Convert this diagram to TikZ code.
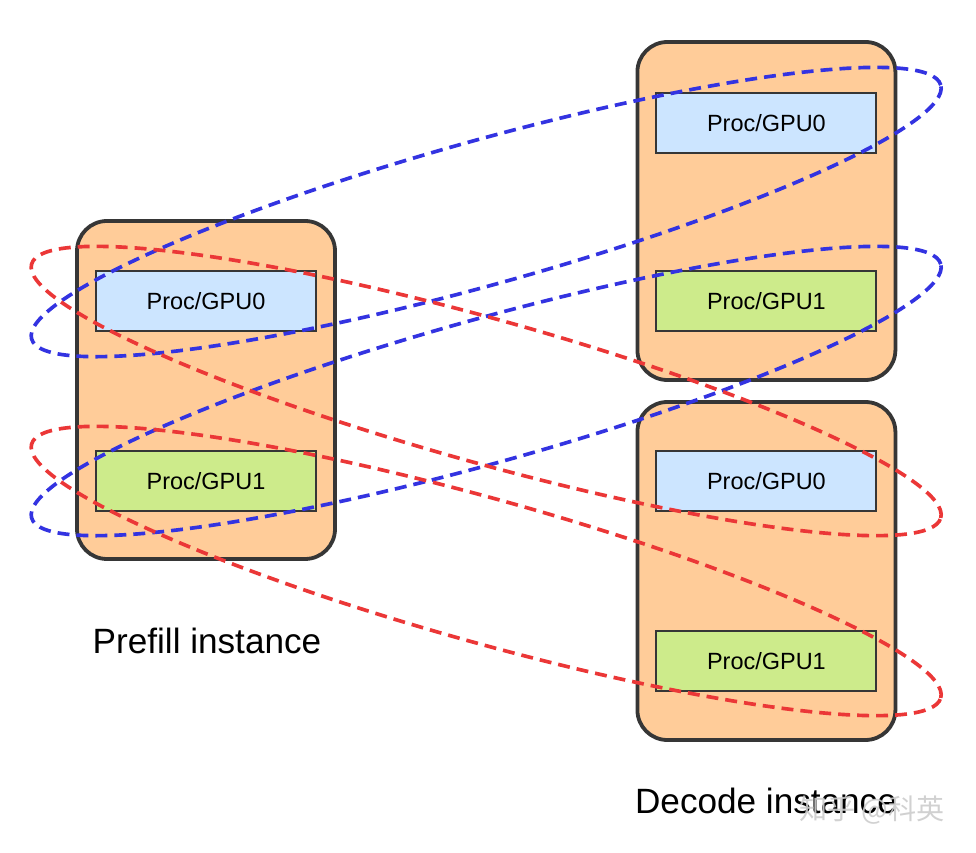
\documentclass[tikz,border=0pt]{standalone}
\usepackage{fontspec}
\setmainfont{Liberation Sans}
\newfontfamily\cjkfont{Noto Sans CJK SC}
\usetikzlibrary{calc}

\definecolor{instfill}{RGB}{255,204,153}
\definecolor{gpuzero}{RGB}{204,229,255}
\definecolor{gpuone}{RGB}{205,235,139}
\definecolor{boxline}{RGB}{54,54,54}
\definecolor{bluegroup}{RGB}{51,51,225}
\definecolor{redgroup}{RGB}{235,55,55}

\tikzstyle{instance}=[rectangle, draw=boxline, line width=2.7pt, fill=instfill,
                      rounded corners=0.75cm, minimum width=6.45cm, minimum height=8.45cm]
\tikzstyle{proc}=[rectangle, draw=boxline, line width=1.5pt, inner sep=0,
                  minimum width=5.5cm, minimum height=1.5cm,
                  font=\fontsize{16.7}{20}\selectfont]
\tikzstyle{caption}=[font=\fontsize{25}{30}\selectfont]
\tikzstyle{group}=[line width=2.6pt, dash pattern=on 8.5pt off 5pt]

\begin{document}
\begin{tikzpicture}

\useasboundingbox (0, 0) rectangle (24.4, 21.3);

%%%%%%%%%%%%%%%%%%
%%%%%%%%%%%%%%%%%%
\node (Prefill) at (5.15, 11.55) [instance] {};

\node (GPU0_Prefill) at (5.15, 13.775) [proc, fill=gpuzero] {Proc/GPU0};

\node (GPU1_Prefill) at (5.15, 9.275) [proc, fill=gpuone] {Proc/GPU1};

\node (Prefill_Text) at (5.175, 5.275) [caption] {Prefill instance};

%%%%%%%%%%%%%%%%%%
\node (DecodeA) at (19.16, 16.025) [instance] {};

\node (GPU0_DecodeA) at (19.16, 18.225) [proc, fill=gpuzero] {Proc/GPU0};

\node (GPU1_DecodeA) at (19.16, 13.775) [proc, fill=gpuone] {Proc/GPU1};

%%%%%%%%%%%%%%%%%%
\node (DecodeB) at (19.16, 7.025) [instance] {};

\node (GPU0_DecodeB) at (19.16, 9.275) [proc, fill=gpuzero] {Proc/GPU0};

\node (GPU1_DecodeB) at (19.16, 4.775) [proc, fill=gpuone] {Proc/GPU1};

\node (Decode_Text) at (19.15, 1.275) [caption] {Decode instance};

\node (Watermark) at (21.8, 1.05) [text=gray!40, opacity=0.9,
      font=\cjkfont\fontsize{20}{24}\selectfont] {知乎 @科英};

%%%%%%%%%%%%%%%%%%%%
%%%%%%%%%%%%%%%%%%%%
\coordinate (GPU0_to_A) at ($(GPU0_Prefill)!0.5!(GPU0_DecodeA)$);

\coordinate (GPU1_to_A) at ($(GPU1_Prefill)!0.5!(GPU1_DecodeA)$);

\coordinate (GPU0_to_B) at ($(GPU0_Prefill)!0.5!(GPU0_DecodeB)$);

\coordinate (GPU1_to_B) at ($(GPU1_Prefill)!0.5!(GPU1_DecodeB)$);

%%%%%%%%%%%%%%%%%%%%
\draw [group, draw=bluegroup, rotate around={15.6:(GPU0_to_A)}]
      (GPU0_to_A) ellipse [x radius=11.8cm, y radius=1.8cm];

\draw [group, draw=bluegroup, rotate around={15.6:(GPU1_to_A)}]
      (GPU1_to_A) ellipse [x radius=11.8cm, y radius=1.8cm];

\draw [group, draw=redgroup, rotate around={-15.6:(GPU0_to_B)}]
      (GPU0_to_B) ellipse [x radius=11.8cm, y radius=1.8cm];

\draw [group, draw=redgroup, rotate around={-15.6:(GPU1_to_B)}]
      (GPU1_to_B) ellipse [x radius=11.8cm, y radius=1.8cm];

\end{tikzpicture}
\end{document}
